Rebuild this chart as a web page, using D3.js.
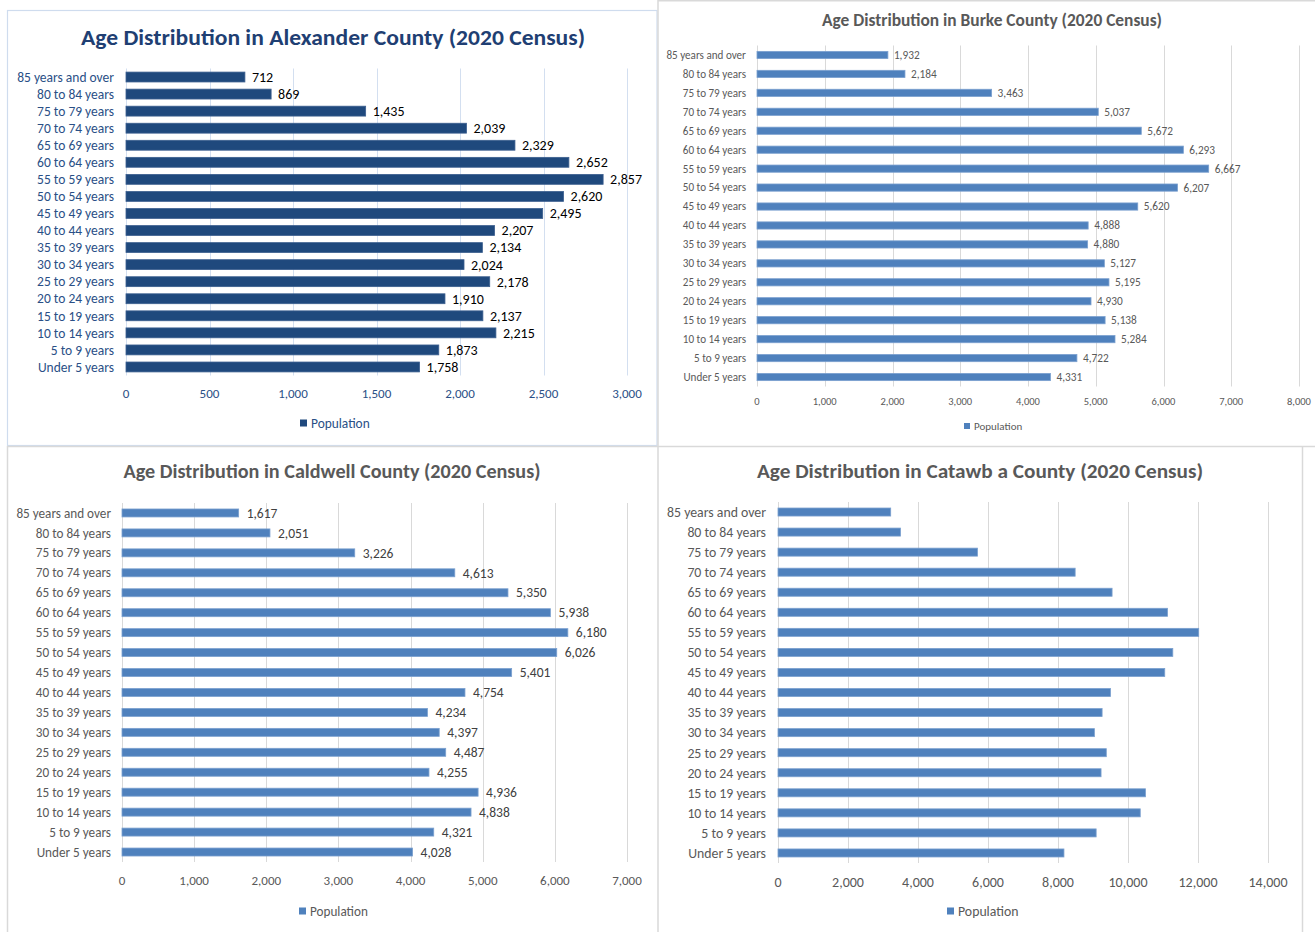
<!DOCTYPE html>
<html><head><meta charset="utf-8">
<script src="https://cdn.jsdelivr.net/npm/d3@7/dist/d3.min.js"></script>
<style>
html,body{margin:0;padding:0;background:#fff;}
svg{display:block;font-family:Carlito,Lato,"Open Sans",sans-serif;}
</style></head>
<body><svg id="c" width="1315" height="932"></svg>
<script>
const categories = ["85 years and over","80 to 84 years","75 to 79 years","70 to 74 years","65 to 69 years","60 to 64 years","55 to 59 years","50 to 54 years","45 to 49 years","40 to 44 years","35 to 39 years","30 to 34 years","25 to 29 years","20 to 24 years","15 to 19 years","10 to 14 years","5 to 9 years","Under 5 years"];
const alexander = [712,869,1435,2039,2329,2652,2857,2620,2495,2207,2134,2024,2178,1910,2137,2215,1873,1758];
const burke = [1932,2184,3463,5037,5672,6293,6667,6207,5620,4888,4880,5127,5195,4930,5138,5284,4722,4331];
const caldwell = [1617,2051,3226,4613,5350,5938,6180,6026,5401,4754,4234,4397,4487,4255,4936,4838,4321,4028];
const catawba = [3220,3500,5700,8490,9545,11130,12020,11280,11050,9500,9260,9040,9380,9230,10500,10350,9090,8170];
const alexanderTicks = [0,500,1000,1500,2000,2500,3000];
const burkeTicks = [0,1000,2000,3000,4000,5000,6000,7000,8000];
const caldwellTicks = [0,1000,2000,3000,4000,5000,6000,7000];
const catawbaTicks = [0,2000,4000,6000,8000,10000,12000,14000];
const titles = ["Age Distribution in Alexander County (2020 Census)","Age Distribution in Burke County (2020 Census)","Age Distribution in Caldwell County (2020 Census)","Age Distribution in Catawb a County (2020 Census)"];
const legendLabel = "Population";

const svg = d3.select("#c");
const fmt = d3.format(",");

// panel frames
svg.append("rect").attr("x",7.5).attr("y",10.5).attr("width",649.5).attr("height",435).attr("fill","none").attr("stroke","#cfdcee").attr("stroke-width",1.2);
const frame = (x1,y1,x2,y2)=>svg.append("line").attr("x1",x1).attr("y1",y1).attr("x2",x2).attr("y2",y2).attr("stroke","#d9d9d9").attr("stroke-width",1.5);
frame(658,0,658,932);
frame(658,0.7,1315,0.7);
frame(7,446.5,1315,446.5);
frame(7.5,446,7.5,932);
frame(1302.5,446,1302.5,932);

function panel(o){
  const g = svg.append("g");
  const x = d3.scaleLinear().domain([0,o.max]).range([o.x0,o.x1]);
  const y = d3.scaleBand().domain(categories).range([o.yTop,o.yBot]).paddingInner(o.pad).paddingOuter(o.pad/2);
  g.append("g").selectAll("line").data(o.ticks).join("line")
    .attr("x1",d=>Math.round(x(d))+0.5).attr("x2",d=>Math.round(x(d))+0.5)
    .attr("y1",o.yTop).attr("y2",o.yBot)
    .attr("stroke",o.grid).attr("stroke-width",1);
  g.append("g").selectAll("rect").data(o.values).join("rect")
    .attr("x",x(0)).attr("y",(d,i)=>y(categories[i]))
    .attr("width",d=>x(d)-x(0)).attr("height",y.bandwidth())
    .attr("fill",o.bar).attr("stroke",o.barEdge).attr("stroke-width",0.8);
  if(o.showValues){
    g.append("g").selectAll("text").data(o.values).join("text")
      .attr("x",d=>x(d)+o.valGap).attr("y",(d,i)=>y(categories[i])+y.bandwidth()/2)
      .attr("dy","0.35em").attr("font-size",o.valSize).attr("fill",o.valColor)
      .text(d=>fmt(d));
  }
  g.append("g").selectAll("text").data(categories).join("text")
    .attr("x",o.x0-o.catGap).attr("y",d=>y(d)+y.bandwidth()/2)
    .attr("dy","0.35em").attr("text-anchor","end")
    .attr("font-size",o.catSize).attr("fill",o.catColor).text(d=>d);
  g.append("g").selectAll("text").data(o.ticks).join("text")
    .attr("x",d=>x(d)).attr("y",o.tickY).attr("dy","0.35em").attr("text-anchor","middle")
    .attr("font-size",o.tickSize).attr("fill",o.tickColor).text(d=>fmt(d));
  g.append("text").attr("x",o.titleX).attr("y",o.titleY).attr("dy","0.35em").attr("text-anchor","middle")
    .attr("font-size",o.titleSize).attr("font-weight","bold").attr("fill",o.titleColor)
    .attr("textLength",o.titleW).attr("lengthAdjust","spacingAndGlyphs").text(o.title);
  g.append("rect").attr("x",o.legX).attr("y",o.legY-o.legBox/2).attr("width",o.legBox).attr("height",o.legBox).attr("fill",o.bar);
  g.append("text").attr("x",o.legX+o.legBox+4).attr("y",o.legY).attr("dy","0.35em")
    .attr("font-size",o.legSize).attr("fill",o.tickColor).text(legendLabel);
}

panel({values:alexander,ticks:alexanderTicks,max:3000,x0:126,x1:627,yTop:68.5,yBot:375.5,pad:0.42,
  grid:"#d3dff0",bar:"#1f497d",barEdge:"#3c5f8f",showValues:true,valGap:7,valSize:14,valColor:"#000",
  catGap:12,catSize:13.5,catColor:"#2a4f86",tickY:393,tickSize:13,tickColor:"#2a4f86",
  title:titles[0],titleX:333,titleY:37,titleSize:22.5,titleW:504,titleColor:"#1f3f73",
  legX:300,legY:423,legBox:7,legSize:13.4});

panel({values:burke,ticks:burkeTicks,max:8000,x0:757,x1:1299,yTop:45.5,yBot:386.5,pad:0.62,
  grid:"#d9d9d9",bar:"#4f81bd",barEdge:"#7ba0cf",showValues:true,valGap:6,valSize:11.3,valColor:"#595959",
  catGap:11,catSize:11.1,catColor:"#595959",tickY:401,tickSize:10.5,tickColor:"#595959",
  title:titles[1],titleX:992,titleY:20,titleSize:17,titleW:340,titleColor:"#595959",
  legX:964,legY:426,legBox:6,legSize:11});

panel({values:caldwell,ticks:caldwellTicks,max:7000,x0:122,x1:627,yTop:503,yBot:862,pad:0.6,
  grid:"#d9d9d9",bar:"#4f81bd",barEdge:"#7ba0cf",showValues:true,valGap:8,valSize:13.5,valColor:"#404040",
  catGap:11,catSize:13.2,catColor:"#595959",tickY:880,tickSize:13,tickColor:"#595959",
  title:titles[2],titleX:332,titleY:471,titleSize:19.5,titleW:417,titleColor:"#595959",
  legX:299,legY:911,legBox:7,legSize:13.2});

panel({values:catawba,ticks:catawbaTicks,max:14000,x0:778,x1:1268,yTop:502,yBot:863,pad:0.6,
  grid:"#d9d9d9",bar:"#4f81bd",barEdge:"#7ba0cf",showValues:false,
  catGap:12,catSize:13.8,catColor:"#595959",tickY:882,tickSize:14,tickColor:"#595959",
  title:titles[3],titleX:980,titleY:471,titleSize:20,titleW:446,titleColor:"#595959",
  legX:947,legY:911,legBox:7,legSize:13.8});
</script></body></html>
